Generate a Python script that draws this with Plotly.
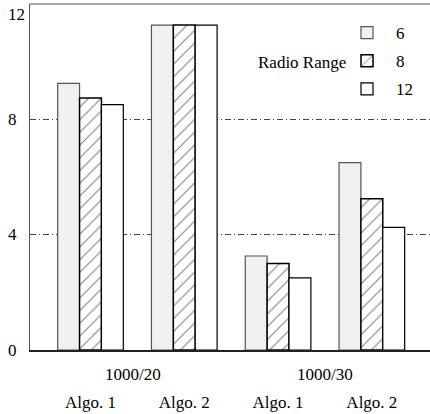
import plotly.graph_objects as go

categories = [0, 1, 2, 3]
cat_labels = ["Algo. 1", "Algo. 2", "Algo. 1", "Algo. 2"]
group_labels = ["1000/20", "1000/30"]
group_pos = [0.45, 2.5]
series_names = ["6", "8", "12"]
vals_6 = [9.25, 11.27, 3.26, 6.5]
vals_8 = [8.74, 11.27, 3.0, 5.25]
vals_12 = [8.51, 11.27, 2.5, 4.25]
yticks = [0, 4, 8, 12]

FONT = "Liberation Serif"
fig = go.Figure()
fig.add_trace(go.Bar(x=categories, y=vals_6, name=series_names[0], legendgroup="a",
                     marker=dict(color="#f0f0f0", line=dict(color="#555", width=1.2))))
fig.add_trace(go.Bar(x=categories, y=vals_8, name=series_names[1], legendgroup="b",
                     marker=dict(color="white", line=dict(color="black", width=1.5),
                                 pattern=dict(shape="/", size=9, solidity=0.12,
                                              fgcolor="black", bgcolor="white"))))
fig.add_trace(go.Bar(x=categories, y=vals_12, name=series_names[2], legendgroup="c",
                     marker=dict(color="white", line=dict(color="black", width=1.2))))

for yv in yticks:
    fig.add_annotation(x=0, xref="paper", y=yv, yref="y", text=str(yv), showarrow=False,
                       xanchor="left", xshift=-24, yshift=(-10 if yv == 12 else 0),
                       font=dict(family=FONT, size=17, color="black"))

for lab, pos in zip(group_labels, group_pos):
    fig.add_annotation(x=pos, xref="x", y=-0.07, yref="paper", text=lab, showarrow=False,
                       yanchor="middle", font=dict(family=FONT, size=17, color="black"))

fig.add_annotation(x=0.795, xref="paper", y=0.832, yref="paper", text="Radio Range",
                   showarrow=False, xanchor="right", yanchor="middle",
                   font=dict(family=FONT, size=17, color="black"))

fig.update_layout(
    width=430, height=414,
    margin=dict(l=30, r=0, t=4, b=64, autoexpand=False),
    paper_bgcolor="white", plot_bgcolor="white",
    barmode="group", bargap=0.3, bargroupgap=0,
    font=dict(family=FONT, size=17, color="black"),
    legend=dict(x=0.77, y=0.968, xanchor="left", yanchor="top",
                bgcolor="rgba(0,0,0,0)", itemwidth=48, tracegroupgap=3,
                font=dict(family=FONT, size=17)),
    xaxis=dict(range=[-0.645, 3.62], tickvals=categories, ticktext=cat_labels,
               ticks="", showgrid=False, zeroline=False, showline=True,
               linecolor="#222", linewidth=1.5, mirror=False, automargin=False,
               ticklabelstandoff=36, tickfont=dict(family=FONT, size=17)),
    yaxis=dict(range=[0, 12], tickvals=yticks, showticklabels=False, ticks="",
               showgrid=True, gridcolor="#444", gridwidth=1, griddash="6px,3px,1px,3px",
               zeroline=False, showline=True, linecolor="#555", linewidth=1.2,
               automargin=False),
)
fig.add_shape(type="line", xref="paper", yref="paper", x0=0, x1=1, y0=1, y1=1,
              line=dict(color="#555", width=1.2))
fig.write_html("out.html", config={"displayModeBar": False},
               post_script="document.body.style.margin='0';")
